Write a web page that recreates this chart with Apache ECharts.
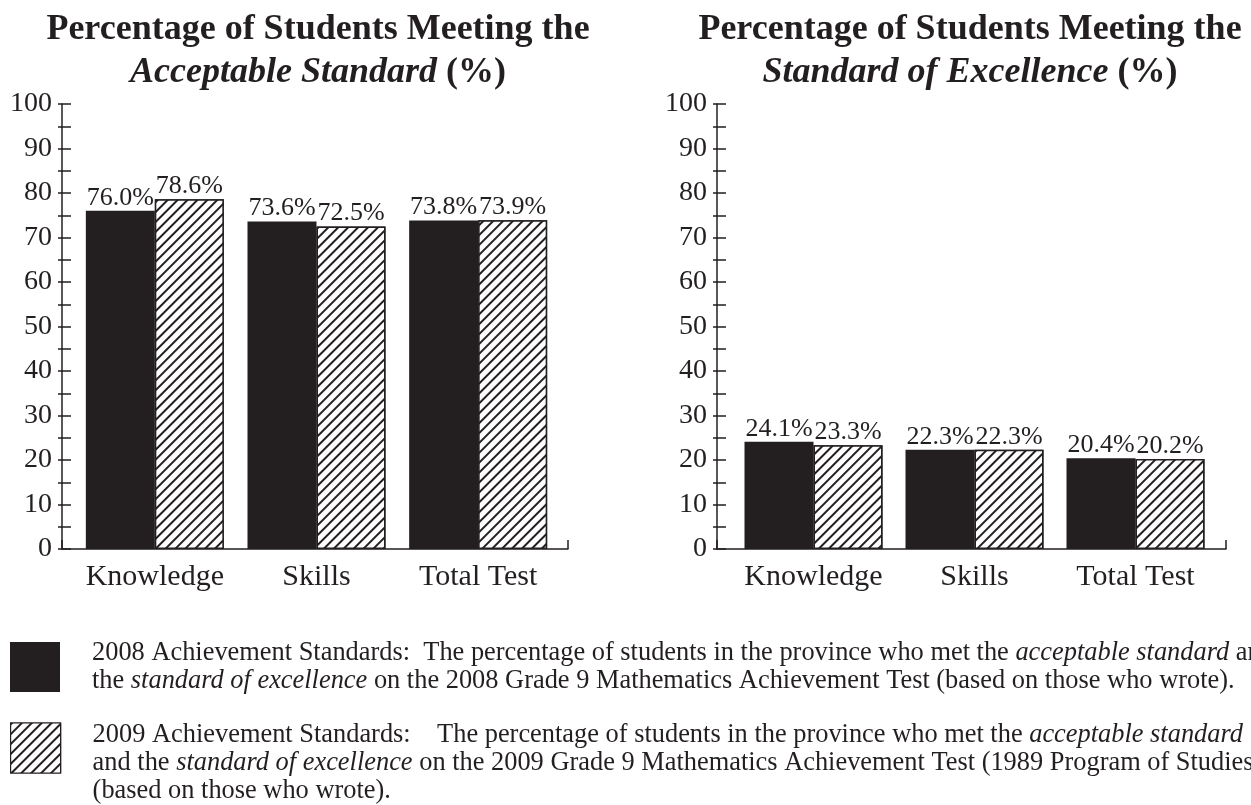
<!DOCTYPE html>
<html><head><meta charset="utf-8">
<script src="https://cdn.jsdelivr.net/npm/echarts@6/dist/echarts.min.js"></script>
<style>html,body{margin:0;padding:0;background:#fff}#c{width:1251px;height:805px}</style>
</head><body><div id="c"></div>
<script>
const categories = ['Knowledge', 'Skills', 'Total Test'];
const acceptable2008 = [76.0, 73.6, 73.8];
const acceptable2009 = [78.6, 72.5, 73.9];
const excellence2008 = [24.1, 22.3, 20.4];
const excellence2009 = [23.3, 22.3, 20.2];
const yMin = 0, yMax = 100, yStep = 5;

const INK = '#231f20';
const FONT = '"Liberation Serif", "DejaVu Serif", serif';
const hatch = {
  symbol: 'rect', symbolSize: 1, color: INK, backgroundColor: '#ffffff',
  dashArrayX: [1, 0], dashArrayY: [1.2, 4.3], rotation: -Math.PI / 4
};

const chart = echarts.init(document.getElementById('c'), null, {renderer: 'canvas'});

const gTop = 104, gHeight = 445;
function outerY(gi) {
  return [
    { gridIndex: gi, type: 'value', position: 'left', min: yMin, max: yMax, interval: yStep,
      axisLine: {show: true, lineStyle: {color: INK, width: 1.5}},
      axisTick: {show: true, inside: false, length: 4, lineStyle: {color: INK, width: 1.5}},
      axisLabel: {show: true, margin: 10, color: INK, fontFamily: FONT, fontSize: 28,
        formatter: v => (v % 10 === 0 ? String(v) : '')},
      splitLine: {show: false} },
    { gridIndex: gi, type: 'value', position: 'left', offset: 0, min: yMin, max: yMax, interval: yStep,
      axisLine: {show: false},
      axisTick: {show: true, inside: true, length: 9, lineStyle: {color: INK, width: 1.5}},
      axisLabel: {show: false}, splitLine: {show: false} }
  ];
}
function innerY(gi) {
  return { gridIndex: gi, type: 'value', min: yMin, max: yMax, show: false, splitLine: {show: false} };
}
function outerX(gi) {
  return { gridIndex: gi, type: 'value', min: 0, max: 1, interval: 1,
    axisLine: {show: true, lineStyle: {color: INK, width: 1.5}},
    axisTick: {show: true, inside: true, length: 9, lineStyle: {color: INK, width: 1.5}},
    axisLabel: {show: false}, splitLine: {show: false} };
}
function innerX(gi) {
  return { gridIndex: gi, type: 'category', data: categories,
    axisLine: {show: false}, axisTick: {show: false},
    axisLabel: {interval: 0, hideOverlap: false, color: INK, fontFamily: FONT, fontSize: 30, margin: 13} };
}
const labelCfg = {show: true, position: 'top', distance: 0, color: INK, fontFamily: FONT, fontSize: 26,
  formatter: p => p.value.toFixed(1) + '%'};

function bar(name, data, xi, yi, hatched) {
  return {
    type: 'bar', name, data, xAxisIndex: xi, yAxisIndex: yi,
    barWidth: 69, barGap: '0%',
    itemStyle: hatched
      ? {color: '#ffffff', borderColor: INK, borderWidth: 1.5, decal: hatch}
      : {color: INK, borderColor: INK, borderWidth: 0},
    label: labelCfg, labelLayout: {hideOverlap: false}, emphasis: {disabled: true}, animation: false
  };
}

const titleStyle = {
  color: INK, fontFamily: FONT, fontSize: 36, fontWeight: 'bold', lineHeight: 43,
  rich: {bi: {fontFamily: FONT, fontSize: 36, fontWeight: 'bold', fontStyle: 'italic', color: INK, lineHeight: 43}}
};

const legendText = {
  '2008': '2008 Achievement Standards:  The percentage of students in the province who met the {i|acceptable standard} and\nthe {i|standard of excellence} on the 2008 Grade 9 Mathematics Achievement Test (based on those who wrote).',
  '2009': '2009 Achievement Standards:    The percentage of students in the province who met the {i|acceptable standard}\nand the {i|standard of excellence} on the 2009 Grade 9 Mathematics Achievement Test (1989 Program of Studies)\n(based on those who wrote).'
};
const legTS = (padTop) => ({
  color: INK, fontFamily: FONT, fontSize: 26.4, lineHeight: 28, padding: [padTop, 0, 0, 27],
  rich: {i: {fontFamily: FONT, fontSize: 26.4, fontStyle: 'italic', color: INK, lineHeight: 28}}
});

chart.setOption({
  animation: false,
  backgroundColor: '#ffffff',
  title: [
    {text: 'Percentage of Students Meeting the\n{bi|Acceptable Standard} (%)', left: 318, top: 8, padding: 0, textAlign: 'center', textStyle: titleStyle},
    {text: 'Percentage of Students Meeting the\n{bi|Standard of Excellence} (%)', left: 970, top: 8, padding: 0, textAlign: 'center', textStyle: titleStyle}
  ],
  legend: [
    {data: [{name: '2008', icon: 'rect', itemStyle: {color: INK, borderWidth: 0}}],
     left: 10, top: 639, padding: 0, itemWidth: 50, itemHeight: 50, selectedMode: false,
     formatter: n => legendText[n], textStyle: legTS(0)},
    {data: [{name: '2009', icon: 'rect', itemStyle: {color: '#ffffff', borderColor: INK, borderWidth: 1.2, decal: hatch}}],
     left: 10, top: 691, padding: 0, itemWidth: 50, itemHeight: 50, selectedMode: false,
     formatter: n => legendText[n], textStyle: legTS(30)}
  ],
  grid: [
    {left: 62, width: 506, top: gTop, height: gHeight},
    {left: 74, width: 485, top: gTop, height: gHeight},
    {left: 717, width: 509, top: gTop, height: gHeight},
    {left: 733, width: 483, top: gTop, height: gHeight}
  ],
  xAxis: [outerX(0), innerX(1), outerX(2), innerX(3)],
  yAxis: [...outerY(0), innerY(1), ...outerY(2), innerY(3)],
  series: [
    bar('2008', acceptable2008, 1, 2, false),
    bar('2009', acceptable2009, 1, 2, true),
    bar('2008', excellence2008, 3, 5, false),
    bar('2009', excellence2009, 3, 5, true)
  ]
});
</script></body></html>
